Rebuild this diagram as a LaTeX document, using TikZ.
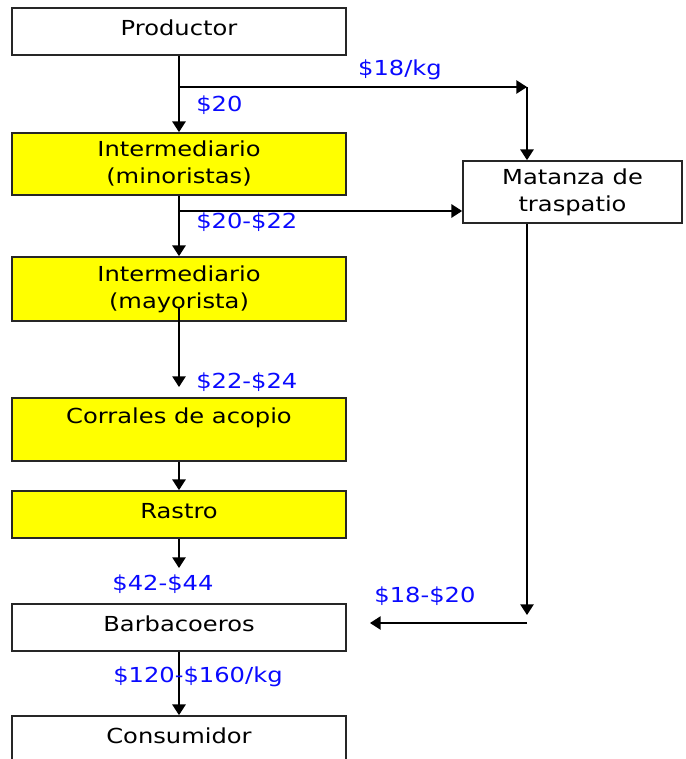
\documentclass[tikz,border=0pt]{standalone}
\usepackage{fontspec}
\setmainfont{DejaVu Sans}[FakeStretch=1.17]
\usetikzlibrary{arrows.meta,calc}
\definecolor{boxyellow}{RGB}{255,255,0}
\definecolor{pricecol}{RGB}{10,10,255}
\newcommand{\diagfont}{\fontsize{15.5pt}{20.25pt}\selectfont}
\begin{document}
\begin{tikzpicture}[x=0.75pt,y=-0.75pt,
  box/.style={draw=black!85, line width=1.3pt, minimum width=250.5pt, font=\diagfont, inner sep=2pt},
  onel/.style={text height=11.5pt, text depth=4.8pt},
  ybox/.style={box, fill=boxyellow},
  twol/.style={align=center},
  arr/.style={line width=1.1pt, -{Triangle[length=8pt,width=10pt]}},
  price/.style={text=pricecol, font=\diagfont, inner sep=0pt}]
\clip (0,0) rectangle (685,759);
\fill[white] (0,0) rectangle (685,759);

\node[box, onel, minimum height=35.25pt] (prod) at (179,31.5) {Productor};
\node[ybox, twol, minimum height=46.5pt] (mino) at (179,164) {Intermediario\\(minoristas)};
\node[ybox, twol, minimum height=48pt] (mayo) at (179,289) {Intermediario\\(mayorista)};
\node[ybox, twol, minimum height=47.25pt] (corr) at (179,429.5) {Corrales de acopio\\\mbox{}};
\node[ybox, onel, minimum height=35.25pt] (rast) at (179,514.5) {Rastro};
\node[box, onel, minimum height=35.25pt] (barb) at (179,627.5) {Barbacoeros};
\node[box, onel, minimum height=35.25pt] (cons) at (179,739.5) {Consumidor};
\node[box, twol, minimum width=164.25pt, minimum height=46.5pt] (mata) at (572.5,192) {Matanza de\\traspatio};

\coordinate (b1) at (179,87);
\coordinate (k1) at (527,87);
\coordinate (b2) at (179,211);
\coordinate (m2a) at (179,308);
\coordinate (m2b) at (179,387);
\coordinate (r1) at (179,568);
\coordinate (k2) at (527,615);
\coordinate (k3) at (527,623);
\coordinate (k4) at (370,623);

\draw[arr] (prod) -- (mino);
\draw[arr] (b1) -- (k1);
\draw[arr] (k1) -- (k1 |- mata.north);
\draw[arr] (mino) -- (mayo);
\draw[arr] (b2) -- (b2 -| mata.west);
\draw[arr] (m2a) -- (m2b);
\draw[arr] (corr) -- (rast);
\draw[arr] (rast) -- (r1);
\draw[arr] (mata.south -| k2) -- (k2);
\draw[arr] (k3) -- (k4);
\draw[arr] (barb) -- (cons);

\node[price] (p1) at (400,70) {\$18/kg};
\node[price, anchor=west] (p2) at (196,105) {\$20};
\node[price, anchor=west] (p3) at (196,222) {\$20-\$22};
\node[price, anchor=west] (p4) at (196,382) {\$22-\$24};
\node[price] (p5) at (163,584) {\$42-\$44};
\node[price] (p6) at (425,596) {\$18-\$20};
\node[price] (p7) at (198,677) {\$120-\$160/kg};
\end{tikzpicture}
\end{document}
